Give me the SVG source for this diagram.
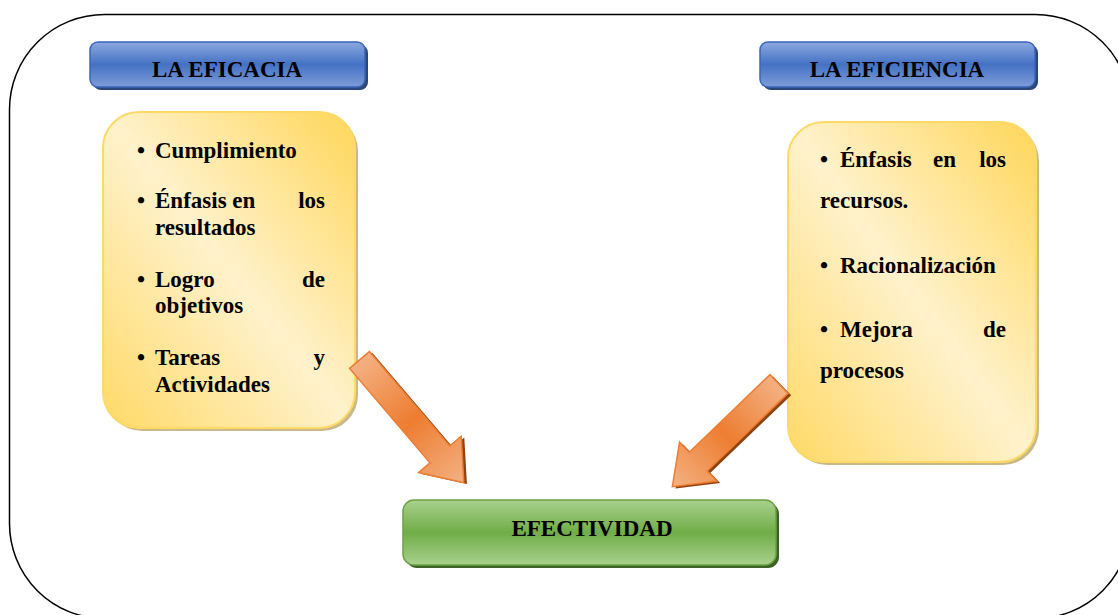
<svg xmlns="http://www.w3.org/2000/svg" width="1118" height="615" viewBox="0 0 1118 615">
<defs>
<linearGradient id="gBlue" x1="0" y1="0" x2="0" y2="1">
<stop offset="0" stop-color="#8CA8E0"/><stop offset="0.5" stop-color="#4472C4"/><stop offset="1" stop-color="#7E9CD8"/>
</linearGradient>
<linearGradient id="gGreen" x1="0" y1="0" x2="0" y2="1">
<stop offset="0" stop-color="#A9D18E"/><stop offset="0.5" stop-color="#70AD47"/><stop offset="1" stop-color="#A9D18E"/>
</linearGradient>
<linearGradient id="gYellow" x1="1" y1="0" x2="0" y2="1">
<stop offset="0" stop-color="#FFD659"/><stop offset="0.5" stop-color="#FFF2CC"/><stop offset="1" stop-color="#FFD966"/>
</linearGradient>
<linearGradient id="gOrange" x1="0" y1="0" x2="1" y2="0">
<stop offset="0" stop-color="#F4B183"/><stop offset="0.5" stop-color="#ED7D31"/><stop offset="1" stop-color="#F4B183"/>
</linearGradient>
<style>
.t{font-family:"Liberation Serif","Times New Roman",serif;font-weight:bold;font-size:23px;fill:#000}
.hd{font-family:"Liberation Serif","Times New Roman",serif;font-weight:bold;font-size:23px;fill:#000;text-anchor:middle}
.blue{fill:url(#gBlue);stroke:#3A66B8;stroke-width:1.5}
.blueSh{fill:#2B4678}
.yel{fill:url(#gYellow);stroke:#FFD966;stroke-width:2}
.yelSh{fill:#C9B98A}
.grn{fill:url(#gGreen);stroke:#6AA33F;stroke-width:1.5}
.grnSh{fill:#3D6227}
.arr{fill:url(#gOrange);stroke:#ED7D31;stroke-width:1.5;stroke-linejoin:miter}
.arrSh{fill:#8E420F}
.e{text-anchor:end}
</style>
</defs>
<rect x="9.5" y="14.5" width="1121" height="604" rx="95" ry="95" fill="none" stroke="#000" stroke-width="1.5"/>

<g id="eficacia">
<rect class="blueSh" x="93" y="45" width="275" height="45" rx="8"/>
<rect class="blue" x="90" y="42" width="275" height="45" rx="8"/>
<text class="hd" x="227" y="77">LA EFICACIA</text>
</g>

<g id="eficiencia">
<rect class="blueSh" x="763" y="45" width="275" height="45" rx="8"/>
<rect class="blue" x="760" y="42" width="275" height="45" rx="8"/>
<text class="hd" x="897" y="77">LA EFICIENCIA</text>
</g>

<g id="eficacia-lista">
<rect class="yelSh" x="106" y="115" width="252" height="316" rx="36"/>
<rect class="yel" x="103" y="112" width="252" height="316" rx="36"/>
<text class="t" x="137" y="158">•</text><text class="t" x="155" y="158">Cumplimiento</text>
<text class="t" x="137" y="208">•</text><text class="t" x="155" y="208">Énfasis en</text><text class="t e" x="325" y="208">los</text>
<text class="t" x="155" y="235">resultados</text>
<text class="t" x="137" y="287">•</text><text class="t" x="155" y="287">Logro</text><text class="t e" x="325" y="287">de</text>
<text class="t" x="155" y="313">objetivos</text>
<text class="t" x="137" y="365">•</text><text class="t" x="155" y="365">Tareas</text><text class="t e" x="325" y="365">y</text>
<text class="t" x="155" y="392">Actividades</text>
</g>

<g id="eficiencia-lista">
<rect class="yelSh" x="791" y="125" width="248" height="340" rx="36"/>
<rect class="yel" x="788" y="122" width="248" height="340" rx="36"/>
<text class="t" x="820" y="167">•</text><text class="t" x="840" y="167">Énfasis</text><text class="t" x="933" y="167">en</text><text class="t e" x="1006" y="167">los</text>
<text class="t" x="820" y="208">recursos.</text>
<text class="t" x="820" y="273">•</text><text class="t" x="840" y="273">Racionalización</text>
<text class="t" x="820" y="337">•</text><text class="t" x="840" y="337">Mejora</text><text class="t e" x="1006" y="337">de</text>
<text class="t" x="820" y="378">procesos</text>
</g>

<g id="efectividad">
<rect class="grnSh" x="406" y="503" width="373" height="65" rx="11"/>
<rect class="grn" x="403" y="500" width="373" height="65" rx="11"/>
<text class="hd" x="592" y="536">EFECTIVIDAD</text>
</g>

<g id="connectors">
<g transform="translate(359.5,360) rotate(49.6)">
<path class="arrSh" transform="translate(3,-1.5)" d="M0,-13 L124,-13 L124,-28 L161,0 L124,28 L124,13 L0,13 Z"/>
<path class="arr" d="M0,-13 L124,-13 L124,-28 L161,0 L124,28 L124,13 L0,13 Z"/>
</g>
<g transform="translate(779,384) rotate(136.1)">
<path class="arrSh" transform="translate(-1,-3.5)" d="M0,-13 L112,-13 L112,-27 L148,0 L112,27 L112,13 L0,13 Z"/>
<path class="arr" d="M0,-13 L112,-13 L112,-27 L148,0 L112,27 L112,13 L0,13 Z"/>
</g>
</g>
</svg>
